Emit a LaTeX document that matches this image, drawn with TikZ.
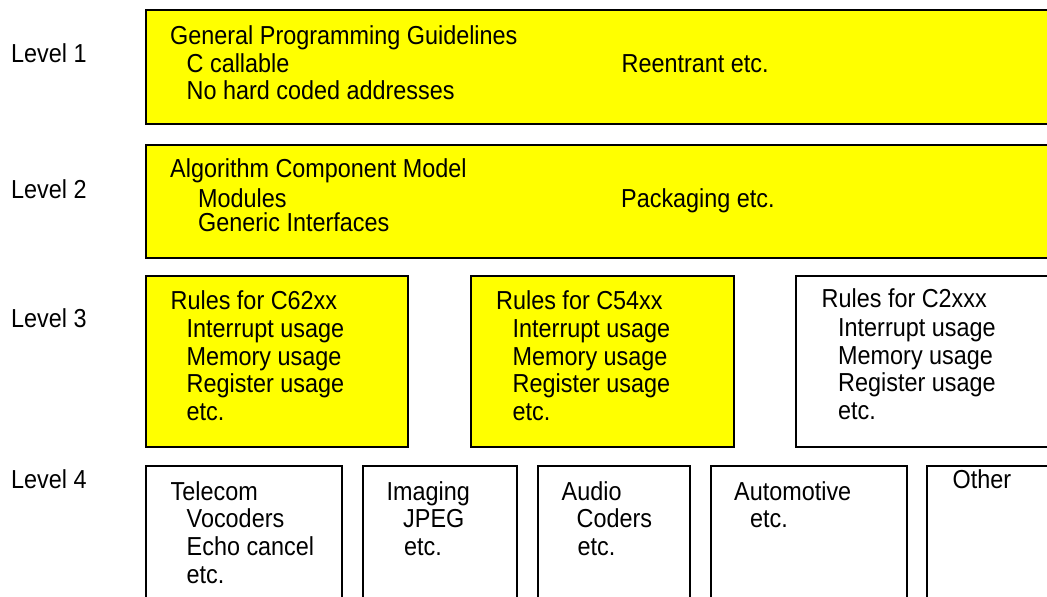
\documentclass[tikz,border=0pt]{standalone}
\usepackage{fontspec}
\setmainfont[FakeStretch=0.9]{Liberation Sans}
\definecolor{boxyellow}{RGB}{255,255,0}
\begin{document}
\begin{tikzpicture}[x=1pt,y=-1pt,
  box/.style={draw=black,line width=1.6pt,anchor=north west,inner sep=0pt,outer sep=0pt},
  ybox/.style={box,fill=boxyellow},
  wbox/.style={box,fill=white},
  txt/.style={anchor=base west,inner sep=0pt,font=\fontsize{26}{27.5}\selectfont}]
\useasboundingbox (0,0) rectangle (1047,597);
\clip (0,0) rectangle (1047,597);
% boxes
\node[ybox,minimum width=914pt,minimum height=114pt] (b1) at (146,10) {};
\node[ybox,minimum width=914pt,minimum height=113pt] (b2) at (146,145) {};
\node[ybox,minimum width=262pt,minimum height=171pt] (b3a) at (146,276) {};
\node[ybox,minimum width=263pt,minimum height=171pt] (b3b) at (471,276) {};
\node[wbox,minimum width=264pt,minimum height=171pt] (b3c) at (796,276) {};
\node[wbox,minimum width=196pt,minimum height=150pt] (b4a) at (146,466) {};
\node[wbox,minimum width=154pt,minimum height=150pt] (b4b) at (363,466) {};
\node[wbox,minimum width=152pt,minimum height=150pt] (b4c) at (538,466) {};
\node[wbox,minimum width=196pt,minimum height=150pt] (b4d) at (711,466) {};
\node[wbox,minimum width=140pt,minimum height=150pt] (b4e) at (927,466) {};
% level labels
\node[txt] (lv1) at (11,62) {Level 1};
\node[txt] (lv2) at (11,198) {Level 2};
\node[txt] (lv3) at (11,327) {Level 3};
\node[txt] (lv4) at (11,488) {Level 4};
% level 1
\node[txt] (t1a) at (170,44.5) {General Programming Guidelines};
\node[txt] (t1b) at (186.5,72.5) {C callable};
\node[txt] (t1c) at (186.5,99.5) {No hard coded addresses};
\node[txt] (t1d) at (621.5,72.5) {Reentrant etc.};
% level 2
\node[txt] (t2a) at (170,177.5) {Algorithm Component Model};
\node[txt] (t2b) at (198,207) {Modules};
\node[txt] (t2c) at (198,231) {Generic Interfaces};
\node[txt] (t2d) at (621,207) {Packaging etc.};
% level 3
\node[txt] (t3a1) at (170.5,309) {Rules for C62xx};
\node[txt] (t3a2) at (186.5,337.5) {Interrupt usage};
\node[txt] (t3a3) at (186.5,365) {Memory usage};
\node[txt] (t3a4) at (186.5,392.5) {Register usage};
\node[txt] (t3a5) at (186.5,420) {etc.};
\node[txt] (t3b1) at (496,309) {Rules for C54xx};
\node[txt] (t3b2) at (512.5,337.5) {Interrupt usage};
\node[txt] (t3b3) at (512.5,365) {Memory usage};
\node[txt] (t3b4) at (512.5,392.5) {Register usage};
\node[txt] (t3b5) at (512.5,420) {etc.};
\node[txt] (t3c1) at (821.5,307.5) {Rules for C2xxx};
\node[txt] (t3c2) at (838,336) {Interrupt usage};
\node[txt] (t3c3) at (838,364) {Memory usage};
\node[txt] (t3c4) at (838,391.5) {Register usage};
\node[txt] (t3c5) at (838,419) {etc.};
% level 4
\node[txt] (t4a1) at (170.5,500) {Telecom};
\node[txt] (t4a2) at (186.5,527.5) {Vocoders};
\node[txt] (t4a3) at (186.5,555) {Echo cancel};
\node[txt] (t4a4) at (186.5,583) {etc.};
\node[txt] (t4b1) at (386.5,500) {Imaging};
\node[txt] (t4b2) at (403,527.5) {JPEG};
\node[txt] (t4b3) at (404,555) {etc.};
\node[txt] (t4c1) at (561.5,500) {Audio};
\node[txt] (t4c2) at (576.5,527.5) {Coders};
\node[txt] (t4c3) at (577.5,555) {etc.};
\node[txt] (t4d1) at (734,500) {Automotive};
\node[txt] (t4d2) at (750,527.5) {etc.};
\node[txt] (t4e1) at (952.5,488.5) {Other};
\end{tikzpicture}
\end{document}
